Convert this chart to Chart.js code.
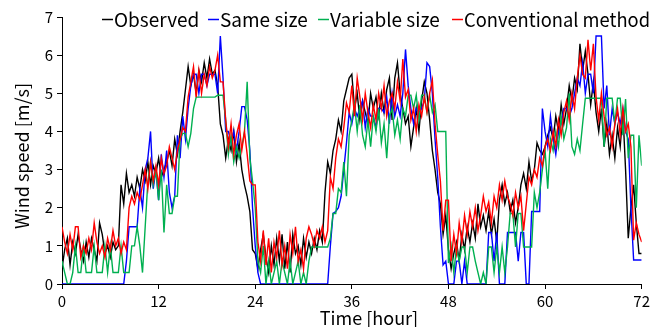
<!DOCTYPE html>
<html><head><meta charset="utf-8">
<script src="https://cdn.jsdelivr.net/npm/chart.js@4"></script>
<style>html,body{margin:0;padding:0;background:#fff;overflow:hidden;}</style>
</head><body>
<canvas id="c" width="653" height="327"></canvas>
<script>
const FONT = '"Noto Sans CJK JP", "Noto Sans", sans-serif';
const stepsPerHour = 3;
const xTicks = [0, 12, 24, 36, 48, 60, 72];
const yTicks = [0, 1, 2, 3, 4, 5, 6, 7];
const seriesNames = ['Observed', 'Same size', 'Variable size', 'Conventional method'];
const seriesColors = ['#000000', '#0000ff', '#00b050', '#ff0000'];
const xTitle = 'Time [hour]';
const yTitle = 'Wind speed [m/s]';

const observed = [
0.4,0.9,1.2, 0.5,1.1,0.8, 1.3,0.9,0.6, 1.1,0.7,1.2, 0.9,0.6,1.6, 1.3,0.8,1.0, 0.7,1.1,0.9, 1.0,2.6,2.1,
2.9,2.4,2.6, 2.3,2.8,2.5, 3.0,2.7,3.2, 2.6,3.1,2.9, 3.3,2.8,3.0, 3.2,3.5,3.1, 3.8,3.4,4.0, 4.5,5.1,5.7,
5.2,5.5,5.0, 5.6,5.3,5.8, 5.4,5.9,5.5, 5.6,5.2,4.2, 3.9,3.3,3.8, 3.5,4.0,3.2, 3.7,3.0,2.6, 2.3,1.9,0.9,
0.8,0.4,0.9, 1.3,0.7,0.3, 1.0,0.5,1.2, 0.6,1.3,0.4, 1.1,0.3,1.3, 0.8,1.0,0.5, 1.2,0.7,1.1, 0.8,1.2,0.9,
1.4,1.1,2.4, 3.2,2.9,3.5, 3.8,4.3,4.0, 4.8,5.1,5.4, 5.5,4.6,5.0, 4.3,4.8,4.5, 4.2,5.0,4.6, 4.9,4.4,5.0,
4.5,5.1,5.4, 4.3,5.4,5.8, 5.0,4.6,4.2, 4.4,3.6,4.1, 4.6,4.0,4.8, 5.3,5.0,4.3, 3.5,3.0,2.4, 2.1,1.3,1.8,
0.9,0.4,0.8, 1.1,0.6,1.3, 0.9,1.5,1.1, 1.6,1.2,2.1, 1.5,1.8,1.4, 1.9,1.3,1.7, 1.1,2.2,2.6, 2.1,2.4,1.9,
2.2,1.6,2.0, 2.6,2.9,2.5, 3.2,2.7,3.0, 3.7,3.5,3.4, 3.6,3.9,4.1, 3.8,4.4,4.0, 4.7,4.2,4.6, 5.2,4.8,5.4,
5.1,6.3,5.6, 6.1,5.5,4.7, 5.3,4.5,4.0, 4.6,3.6,4.2, 3.4,3.9,3.3, 4.1,3.6,4.5, 3.0,1.2,2.0, 2.6,1.6,0.8,
0.8];

const sameSize = [
0,0,0, 0,0,0, 0,0,0, 0,0,0, 0,0,0, 0,0,0, 0,0,0, 0,0,0,
0.6,1.5,1.5, 1.5,1.5,2.5, 2.0,3.0,3.3, 4.0,2.5,3.0, 2.2,3.4,2.8, 3.5,2.4,2.0, 2.3,3.9,3.3, 4.4,3.8,4.6,
5.2,5.5,5.5, 5.0,5.5,5.5, 5.2,5.5,5.5, 5.5,5.0,6.5, 5.4,4.0,4.0, 3.7,4.0,3.5, 4.0,4.65,4.65, 4.3,3.5,2.0,
1.0,0.3,0, 0,0,0, 0,0,0, 0,0,0, 0,0,0, 0,0,0, 0,0,0, 0,0,0,
0,0,0, 0,1.0,1.85, 1.9,2.0,2.3, 3.0,3.7,4.5, 4.2,4.6,4.4, 4.6,4.8,4.1, 4.6,4.4,4.4, 4.1,4.6,4.6,
4.5,4.9,4.2, 5.0,4.4,4.7, 4.4,5.0,6.15, 5.2,4.6,4.2, 4.6,4.5,4.6, 4.8,5.8,5.7, 5.0,3.8,2.8, 1.5,0.5,0.6,
0,0,0, 0.6,0.6,0, 0.6,0,0, 0,0,0, 0,0,0, 1.35,1.35,0.6, 1.35,0,0, 0,1.35,1.35,
1.35,1.35,0.6, 1.35,1.35,0, 0,1.9,1.9, 1.9,1.9,4.6, 4.0,3.6,4.4, 3.8,3.4,4.0, 4.2,4.6,4.6, 4.4,4.6,5.0,
5.4,5.2,5.8, 5.0,5.5,5.5, 5.0,6.5,6.5, 6.5,4.6,5.2, 3.9,4.6,4.2, 4.5,4.2,4.6, 4.0,3.8,2.0, 0.63,0.63,0.63,
0.63];

const variableSize = [
0.6,0.3,0, 0,0.3,1.0, 0.3,0.3,1.0, 0.3,0.3,0.3, 1.0,0.3,0.3, 0.3,1.0,0.3, 1.0,0.3,0.3, 0.3,1.0,0.3,
0.3,0.3,1.0, 1.0,1.5,1.0, 0.3,1.5,2.7, 3.2,2.6,3.0, 2.2,3.0,1.35, 2.6,1.85,1.85, 2.3,2.3,3.8, 3.95,3.95,3.6,
3.95,4.6,4.9, 4.9,4.9,4.9, 4.9,4.9,4.9, 4.9,4.95,4.95, 4.95,4.3,3.4, 3.9,3.2,3.6, 3.3,3.6,4.0, 5.3,3.3,2.7,
2.0,0.6,0.3, 1.0,0,0.6, 0,0.3,0.6, 0,0.6,0.3, 0,0.6,0, 0.3,0.6,0, 0.3,0,0.6, 0.97,0.97,0.97,
0.97,0.97,0.97, 0.97,1.2,1.85, 1.85,2.5,2.4, 3.2,2.3,3.9, 4.3,4.7,4.0, 4.7,3.9,3.6, 4.3,3.6,4.4, 4.0,4.6,3.7,
4.2,3.3,4.4, 4.6,3.9,4.3, 3.8,4.6,4.4, 4.95,4.95,4.6, 4.95,4.3,4.95, 4.95,4.5,4.95, 4.5,4.7,4.0, 4.0,4.0,4.0,
0.55,1.0,0.3, 0.97,0.6,0.97, 0.97,0.3,0.97, 0.97,0.6,0.3, 0,0.3,0, 0.97,0.97,0.3, 0.97,0.3,0.97, 0.3,0.97,1.85,
1.85,0.97,1.85, 1.85,0.97,0.97, 0.97,0.97,2.4, 2.0,2.4,3.0, 3.5,2.5,3.8, 3.5,4.0,3.6, 4.4,3.8,4.1, 5.0,3.6,3.4,
3.8,3.5,4.2, 4.87,4.87,4.87, 4.87,4.87,4.87, 4.87,3.6,4.87, 4.87,4.87,4.2, 4.87,4.87,3.9, 4.85,3.3,3.9, 3.9,2.0,3.9,
3.1];

const conventional = [
1.5,1.1,0.8, 1.3,0.9,1.5, 1.5,0.7,1.0, 0.8,1.2,0.9, 1.6,1.1,0.8, 1.0,0.7,1.2, 0.9,1.4,1.0, 1.2,0.8,1.1,
0.9,2.0,2.3, 2.1,2.4,2.2, 2.6,3.0,2.5, 3.2,2.7,3.1, 2.6,3.3,2.9, 3.1,3.6,3.3, 3.0,3.5,3.8, 4.1,4.0,4.9,
5.3,5.7,4.9, 5.6,5.0,5.5, 5.2,5.7,5.4, 5.6,6.0,5.3, 5.3,4.3,3.6, 4.2,3.4,3.9, 4.2,3.5,4.0, 3.4,2.7,2.6,
2.6,1.1,0.6, 1.4,0.5,1.2, 0.3,1.1,0.7, 1.4,0.5,1.0, 0.4,1.3,0.8, 1.5,0.6,0.9, 0.4,1.2,1.5, 1.3,1.0,1.4,
1.2,1.5,1.1, 1.4,2.8,2.5, 3.3,3.8,3.6, 4.1,4.75,4.5, 5.2,4.4,5.4, 4.9,4.3,5.0, 4.5,4.1,4.7, 4.3,5.0,4.6,
5.2,4.4,4.8, 5.0,4.6,5.3, 4.8,5.9,4.9, 5.1,4.3,4.6, 4.0,4.7,4.4, 4.9,4.5,5.0, 5.35,4.2,3.4, 2.7,1.4,2.2,
2.2,0.6,1.3, 0.8,1.6,1.1, 1.8,1.3,1.9, 1.5,2.0,1.4, 1.8,2.3,1.9, 2.15,1.6,2.3, 2.0,2.6,2.2, 2.7,2.3,2.1,
1.8,2.4,2.0, 2.3,1.4,2.1, 2.8,2.6,3.0, 2.8,3.3,3.1, 3.6,3.8,3.5, 4.0,3.6,4.3, 3.9,4.5,4.8, 4.3,5.0,4.6,
5.4,6.0,5.5, 5.4,6.4,5.6, 6.3,4.9,4.3, 5.0,4.4,3.9, 4.1,3.6,4.2, 4.6,3.9,4.6, 4.0,4.2,3.6, 1.15,1.6,1.3,
1.1];

const seriesValues = [observed, sameSize, variableSize, conventional];
const toPoints = arr => arr.map((v, i) => ({ x: i / stepsPerHour, y: v }));
const legendStarts = [102, 208, 318, 452];

const overlay = {
  id: 'overlay',
  afterDraw(chart) {
    const ctx = chart.ctx;
    ctx.save();
    ctx.fillStyle = '#000';
    ctx.font = '19px ' + FONT;
    ctx.textBaseline = 'middle';
    ctx.textAlign = 'left';
    const legendY = 19;
    seriesNames.forEach((name, i) => {
      const x = legendStarts[i];
      ctx.strokeStyle = seriesColors[i];
      ctx.lineWidth = 1.5;
      ctx.beginPath();
      ctx.moveTo(x, legendY + 0.5);
      ctx.lineTo(x + 11, legendY + 0.5);
      ctx.stroke();
      ctx.fillStyle = '#000';
      ctx.fillText(name, x + 12, legendY + 1, 186);
    });
    ctx.font = '18px ' + FONT;
    ctx.textAlign = 'center';
    ctx.textBaseline = 'alphabetic';
    ctx.fillText(xTitle, 369, 325);
    ctx.translate(29, 156);
    ctx.rotate(-Math.PI / 2);
    ctx.fillText(yTitle, 0, 0);
    ctx.restore();
  }
};

new Chart(document.getElementById('c'), {
  type: 'line',
  data: {
    datasets: seriesValues.map((vals, i) => ({
      label: seriesNames[i],
      data: toPoints(vals),
      borderColor: seriesColors[i],
      backgroundColor: seriesColors[i],
      borderWidth: 1.4,
      pointRadius: 0,
      tension: 0,
      fill: false,
      order: 4 - i
    }))
  },
  options: {
    responsive: false,
    animation: false,
    devicePixelRatio: 1,
    layout: { padding: { top: 17, right: 7, left: 0, bottom: 0 } },
    plugins: { legend: { display: false }, tooltip: { enabled: false } },
    scales: {
      x: {
        type: 'linear', min: 0, max: 72,
        afterBuildTicks: s => { s.ticks = xTicks.map(v => ({ value: v })); },
        afterFit: s => { s.height = 43; },
        grid: { display: true, drawOnChartArea: false, drawTicks: true, tickLength: 5, color: '#000', lineWidth: 1 },
        border: { display: true, color: '#000', width: 1 },
        ticks: { color: '#000', font: { family: FONT, size: 15 }, padding: 3, maxRotation: 0, autoSkip: false }
      },
      y: {
        min: 0, max: 7,
        afterBuildTicks: s => { s.ticks = yTicks.map(v => ({ value: v })); },
        afterFit: s => { s.width = 62; },
        grid: { display: true, drawOnChartArea: false, drawTicks: true, tickLength: 5, color: '#000', lineWidth: 1 },
        border: { display: true, color: '#000', width: 1 },
        ticks: { color: '#000', font: { family: FONT, size: 15 }, padding: 4 }
      }
    }
  },
  plugins: [overlay]
});
</script>
</body></html>
